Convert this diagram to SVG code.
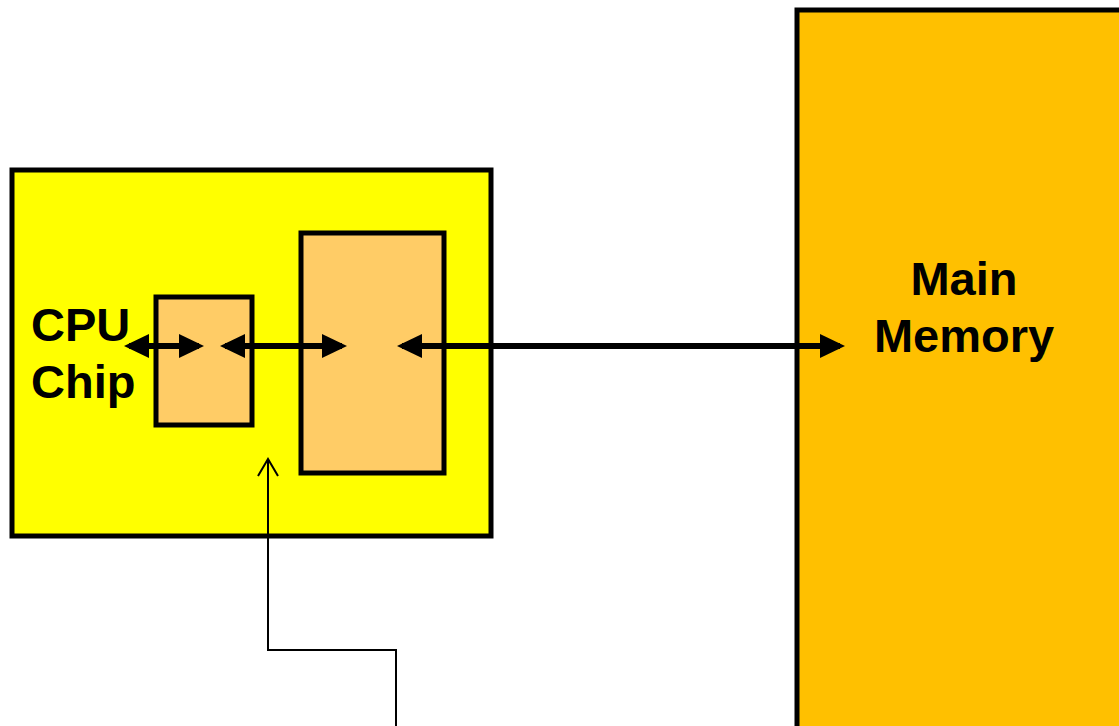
<svg xmlns="http://www.w3.org/2000/svg" width="1119" height="726" viewBox="0 0 1119 726">
<defs>
<style>
.box{stroke:#000;stroke-width:5}
.lbl{font-family:"Liberation Sans",Arial,sans-serif;font-weight:bold;font-size:47px;fill:#000}
.bus{stroke:#000;stroke-width:6;fill:none}
.thin{stroke:#000;stroke-width:2;fill:none}
</style>
<marker id="ah" viewBox="0 0 25 24" refX="20" refY="12" markerWidth="25" markerHeight="24" markerUnits="userSpaceOnUse" orient="auto-start-reverse">
<path d="M0,0 L25,12 L0,24 Z" fill="#000"/>
</marker>
</defs>
<rect width="1119" height="726" fill="#fff"/>
<g id="main-memory">
<rect class="box" x="797" y="10" width="330" height="730" fill="#FFC000"/>
<text class="lbl" x="964" y="295" text-anchor="middle">Main</text>
<text class="lbl" x="964" y="352" text-anchor="middle">Memory</text>
</g>
<g id="cpu-chip">
<rect class="box" x="12" y="170" width="479" height="366" fill="#FFFF00"/>
<text class="lbl" x="31" y="341">CPU</text>
<text class="lbl" x="31" y="398">Chip</text>
</g>
<g id="small-box">
<rect class="box" x="156" y="297" width="96" height="128" fill="#FFCC66"/>
</g>
<g id="large-box">
<rect class="box" x="301" y="233" width="143" height="240" fill="#FFCC66"/>
</g>
<g id="connectors">
<line class="bus" x1="129" y1="346" x2="199" y2="346" marker-start="url(#ah)" marker-end="url(#ah)"/>
<line class="bus" x1="225" y1="346" x2="342" y2="346" marker-start="url(#ah)" marker-end="url(#ah)"/>
<line class="bus" x1="402" y1="346" x2="840" y2="346" marker-start="url(#ah)" marker-end="url(#ah)"/>
<polyline class="thin" points="396,726 396,650 268,650 268,459"/>
<polyline class="thin" points="258,476 268,459 278,476"/>
</g>
</svg>
